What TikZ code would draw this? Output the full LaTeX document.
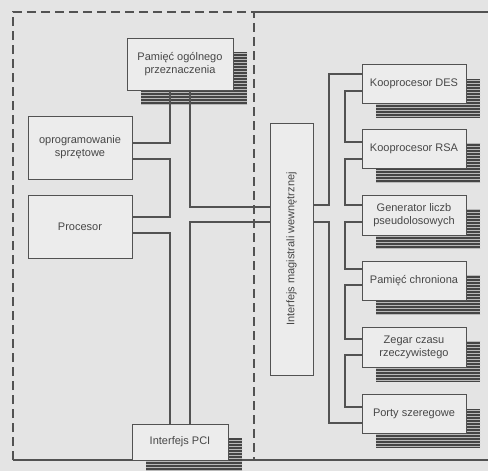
\documentclass[tikz,border=0pt]{standalone}
\usepackage{fontspec}
\setmainfont{Liberation Sans}
\usetikzlibrary{patterns,shadows}
\definecolor{paper}{HTML}{E4E4E4}
\definecolor{boxfill}{HTML}{ECECEC}
\definecolor{ink}{HTML}{525252}
\definecolor{shade}{HTML}{454545}
\begin{document}
\begin{tikzpicture}[x=1pt,y=-1pt,
  unit/.style={draw=ink, line width=1pt, fill=boxfill, inner sep=2pt,
    align=center, text=black!72, font=\fontsize{11}{13}\selectfont},
  shadowed/.style={
    general shadow={shadow xshift=14pt, shadow yshift=-14pt, fill=shade},
    general shadow={shadow xshift=14pt, shadow yshift=-14pt,
      pattern=horizontal lines, pattern color=gray!55}},
  leftunit/.style={unit, minimum width=104pt, minimum height=63pt},
  rightunit/.style={unit, shadowed, minimum width=104pt, minimum height=39pt},
  wire/.style={draw=ink, line width=1.1pt},
  frame/.style={draw=ink, line width=1.2pt},
]
\useasboundingbox (0,0) rectangle (488,471);
\fill[paper] (0,0) rectangle (488,471);

% outer frames: dashed host part, solid module part
\draw[frame, dash pattern=on 9pt off 5pt] (13,460) -- (13,12) -- (254,12) -- (254,460);
\draw[frame] (254,12) -- (488,12);
\draw[frame] (13,460) -- (488,460);

% bus columns
\coordinate (busL) at (170,0);
\coordinate (busM) at (190,0);
\coordinate (busR) at (329,0);
\coordinate (busS) at (345,0);

% host side
\node[unit, shadowed, minimum width=106pt, minimum height=52pt] (pog) at (180,64)
  {Pamięć ogólnego\\przeznaczenia};
\node[leftunit] (opr) at (80,147.5) {oprogramowanie\\sprzętowe};
\node[leftunit] (proc) at (80,226.5) {Procesor};
\node[unit, shadowed, minimum width=96pt, minimum height=36pt] (pci) at (180,442)
  {Interfejs PCI};

% internal bus interface
\node[unit, minimum width=43pt, minimum height=252pt,
  label={[rotate=90, text=black!72, font=\fontsize{11}{13}\selectfont]center:Interfejs magistrali wewnętrznej}]
  (mag) at (291.5,249) {};

% module side
\node[rightunit] (des) at (414,84) {Kooprocesor DES};
\node[rightunit] (rsa) at (414,149) {Kooprocesor RSA};
\node[rightunit, minimum height=40pt] (gen) at (414,215) {Generator liczb\\pseudolosowych};
\node[rightunit] (pch) at (414,281) {Pamięć chroniona};
\node[rightunit, minimum height=40pt] (zeg) at (414,347.5) {Zegar czasu\\rzeczywistego};
\node[rightunit] (prt) at (414,414) {Porty szeregowe};

% host side wiring
\draw[wire] (pog.south -| busL) |- ([yshift=4.5pt]opr.east);
\draw[wire] ([yshift=-11.5pt]opr.east) -| ([yshift=9.5pt]proc.east -| busL) -- ([yshift=9.5pt]proc.east);
\draw[wire] ([yshift=-6.5pt]proc.east) -| (pci.north -| busL);
\draw[wire] (pog.south -| busM) |- ([yshift=42pt]mag.west);
\draw[wire] ([yshift=27pt]mag.west) -| (pci.north -| busM);

% module side wiring
\draw[wire] ([yshift=44pt]mag.east) -| ([yshift=10pt]des.west -| busR) -- ([yshift=10pt]des.west);
\draw[wire] ([yshift=27pt]mag.east) -| ([yshift=-9pt]prt.west -| busR) -- ([yshift=-9pt]prt.west);
\draw[wire] ([yshift=-7pt]des.west) -| ([yshift=7pt]rsa.west -| busS) -- ([yshift=7pt]rsa.west);
\draw[wire] ([yshift=-10pt]rsa.west) -| ([yshift=10pt]gen.west -| busS) -- ([yshift=10pt]gen.west);
\draw[wire] ([yshift=-7pt]gen.west) -| ([yshift=12pt]pch.west -| busS) -- ([yshift=12pt]pch.west);
\draw[wire] ([yshift=-4pt]pch.west) -| ([yshift=8.5pt]zeg.west -| busS) -- ([yshift=8.5pt]zeg.west);
\draw[wire] ([yshift=-7.5pt]zeg.west) -| ([yshift=7pt]prt.west -| busS) -- ([yshift=7pt]prt.west);
\end{tikzpicture}
\end{document}
